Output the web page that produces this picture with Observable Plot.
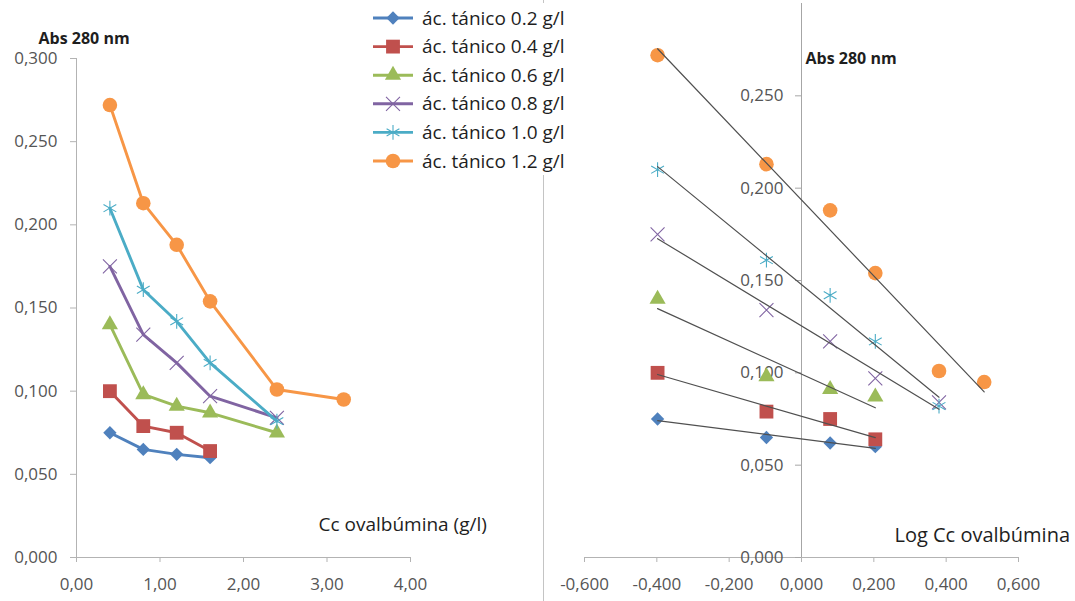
<!DOCTYPE html>
<html>
<head>
<meta charset="utf-8">
<script src="https://cdn.jsdelivr.net/npm/d3@7"></script>
<script src="https://cdn.jsdelivr.net/npm/@observablehq/plot@0.6"></script>
<style>
  body { margin: 0; background: #fff; }
  #chart { position: relative; width: 1075px; height: 601px; overflow: hidden; background: #fff; font-family: "Open Sans", sans-serif; }
  #left, #right { position: absolute; top: 0; }
  #left { left: 0; }
  #right { left: 540px; }
  #divider { position: absolute; left: 543px; top: 0; width: 1px; height: 601px; background: #c4c4c4; }
  #legend { position: absolute; left: 366px; top: 3px; width: 214px; height: 172px; background: #fff; }
</style>
</head>
<body>
<div id="chart">
  <div id="left"></div>
  <div id="right"></div>
  <div id="divider"></div>
  <div id="legend"></div>
</div>
<script>
// Ovalbumin concentration (g/l) of each sample
const concentration = [0.4, 0.8, 1.2, 1.6, 2.4, 3.2];

// Series names (tannic acid dose)
const tannicLabels = [
  "ác. tánico 0.2 g/l",
  "ác. tánico 0.4 g/l",
  "ác. tánico 0.6 g/l",
  "ác. tánico 0.8 g/l",
  "ác. tánico 1.0 g/l",
  "ác. tánico 1.2 g/l"
];

// Absorbance at 280 nm for each tannic acid dose
const abs02 = [0.075, 0.065, 0.062, 0.060];
const abs04 = [0.100, 0.079, 0.075, 0.064];
const abs06 = [0.140, 0.098, 0.091, 0.087, 0.075];
const abs08 = [0.175, 0.134, 0.117, 0.097, 0.084];
const abs10 = [0.210, 0.161, 0.142, 0.117, 0.082];
const abs12 = [0.272, 0.213, 0.188, 0.154, 0.101, 0.095];

// Number of points of each series used in the log plot
const logPanelPoints = [4, 4, 4, 5, 5, 6];

// Axis ticks
const yTicksLeft = [0, 0.05, 0.1, 0.15, 0.2, 0.25, 0.3];
const yTicksRight = [0, 0.05, 0.1, 0.15, 0.2, 0.25];
const xTicksLeft = [0, 1, 2, 3, 4];
const xTicksRight = [-0.6, -0.4, -0.2, 0, 0.2, 0.4, 0.6];

// Styling
const colors = ["#4F81BD", "#C0504D", "#9BBB59", "#8064A2", "#4BACC6", "#F79646"];
const symbols = ["diamond2", "square", "triangle", "times", "asterisk", "circle"];
const strokeSymbol = [false, false, false, true, true, false];
const radii = [6, 7.8, 6, 6.4, 7, 7.3];
const axisGray = "#b3b3b3";
const labelGray = "#555";
const titleColor = "#1e1e1e";
const font = "'Open Sans', sans-serif";

const series = [abs02, abs04, abs06, abs08, abs10, abs12];
const rows = series.flatMap((vals, i) => vals.map((v, j) => ({
  idx: i,
  j,
  series: tannicLabels[i],
  c: concentration[j],
  logc: Math.log10(concentration[j]),
  abs: v
})));
const logRows = rows.filter(d => d.j < logPanelPoints[d.idx]);

const fmt = digits => d => d.toFixed(digits).replace(".", ",");

function dotOptions(i, x) {
  const base = {x, y: "abs", symbol: symbols[i], r: radii[i]};
  return strokeSymbol[i]
    ? {...base, fill: "none", stroke: colors[i], strokeWidth: 1.1}
    : {...base, fill: colors[i], stroke: "none"};
}

// Left: absorbance vs concentration
const leftMarks = [
  Plot.ruleX([0], {y1: 0, y2: 0.3, stroke: axisGray}),
  Plot.ruleY([0], {x1: 0, x2: 4, stroke: axisGray}),
  Plot.axisX({ticks: xTicksLeft, tickFormat: fmt(2), tickSize: 5, tickPadding: 15, stroke: axisGray, fill: labelGray, label: null}),
  Plot.axisY({ticks: yTicksLeft, tickFormat: fmt(3), tickSize: 6, tickPadding: 13, stroke: axisGray, fill: labelGray, label: null})
];
series.forEach((_, i) => {
  const data = rows.filter(d => d.idx === i);
  leftMarks.push(Plot.line(data, {x: "c", y: "abs", stroke: colors[i], strokeWidth: 2.9}));
  leftMarks.push(Plot.dot(data, dotOptions(i, "c")));
});
leftMarks.push(
  Plot.text(["Abs 280 nm"], {text: d => d, frameAnchor: "top-left", dx: -38, dy: -26, textAnchor: "start", fontWeight: "bold", fontSize: 16, fill: titleColor}),
  Plot.text(["Cc ovalbúmina (g/l)"], {text: d => d, frameAnchor: "bottom-left", dx: 242, dy: -27, textAnchor: "start", fontSize: 19, fill: titleColor})
);

const left = Plot.plot({
  width: 540, height: 601,
  marginLeft: 76, marginRight: 130, marginTop: 58, marginBottom: 44,
  x: {domain: [0, 4]},
  y: {domain: [0, 0.3]},
  style: {fontFamily: font, fontSize: "17px", background: "transparent", overflow: "visible"},
  marks: leftMarks
});
document.getElementById("left").append(left);

// Right: absorbance vs log concentration with linear trend lines
const rightMarks = [
  Plot.ruleX([0], {y1: 0, y2: 0.3, stroke: "#a6a6a6"}),
  Plot.ruleY([0], {x1: -0.6, x2: 0.6, stroke: axisGray}),
  Plot.axisX({ticks: xTicksRight, tickFormat: fmt(3), tickSize: 5, tickPadding: 15, stroke: axisGray, fill: labelGray, label: null}),
  Plot.axisY({x: 0, ticks: yTicksRight, tickFormat: fmt(3), tickSize: 6, tickPadding: 12, stroke: "#a6a6a6", fill: labelGray, label: null})
];
series.forEach((_, i) => {
  const data = logRows.filter(d => d.idx === i);
  rightMarks.push(Plot.dot(data, dotOptions(i, "logc")));
});
rightMarks.push(
  Plot.linearRegressionY(logRows, {x: "logc", y: "abs", z: "series", stroke: "#505050", strokeWidth: 1.2, ci: 0}),
  Plot.text(["Abs 280 nm"], {text: d => d, x: 0, frameAnchor: "top", dx: 4, dy: 49, textAnchor: "start", fontWeight: "bold", fontSize: 16, fill: titleColor}),
  Plot.text(["Log Cc ovalbúmina"], {text: d => d, frameAnchor: "bottom-left", dx: 310, dy: -16, textAnchor: "start", fontSize: 20, fill: titleColor})
);

const right = Plot.plot({
  width: 535, height: 601,
  marginLeft: 44, marginRight: 57, marginTop: 3, marginBottom: 44,
  x: {domain: [-0.6, 0.6]},
  y: {domain: [0, 0.3]},
  style: {fontFamily: font, fontSize: "17px", background: "transparent", overflow: "visible"},
  marks: rightMarks
});
document.getElementById("right").append(right);

// Legend
const d3Symbols = {
  diamond2: d3.symbolDiamond2, square: d3.symbolSquare, triangle: d3.symbolTriangle,
  times: d3.symbolTimes, asterisk: d3.symbolAsterisk, circle: d3.symbolCircle
};
const legend = d3.select("#legend").append("svg").attr("width", 214).attr("height", 172);
const item = legend.selectAll("g").data(tannicLabels).join("g")
  .attr("transform", (d, i) => `translate(0,${15 + i * 28.6})`);
item.append("line")
  .attr("x1", 7).attr("x2", 47)
  .attr("stroke", (d, i) => colors[i]).attr("stroke-width", 2.9);
item.append("path")
  .attr("transform", "translate(27,0)")
  .attr("d", (d, i) => d3.symbol(d3Symbols[symbols[i]], Math.PI * radii[i] * radii[i])())
  .attr("fill", (d, i) => strokeSymbol[i] ? "none" : colors[i])
  .attr("stroke", (d, i) => strokeSymbol[i] ? colors[i] : "none")
  .attr("stroke-width", 1.1);
item.append("text")
  .attr("x", 56).attr("dy", "0.35em")
  .attr("font-family", font).attr("font-size", 19)
  .attr("fill", "#1e1e1e")
  .text(d => d);
</script>
</body>
</html>
